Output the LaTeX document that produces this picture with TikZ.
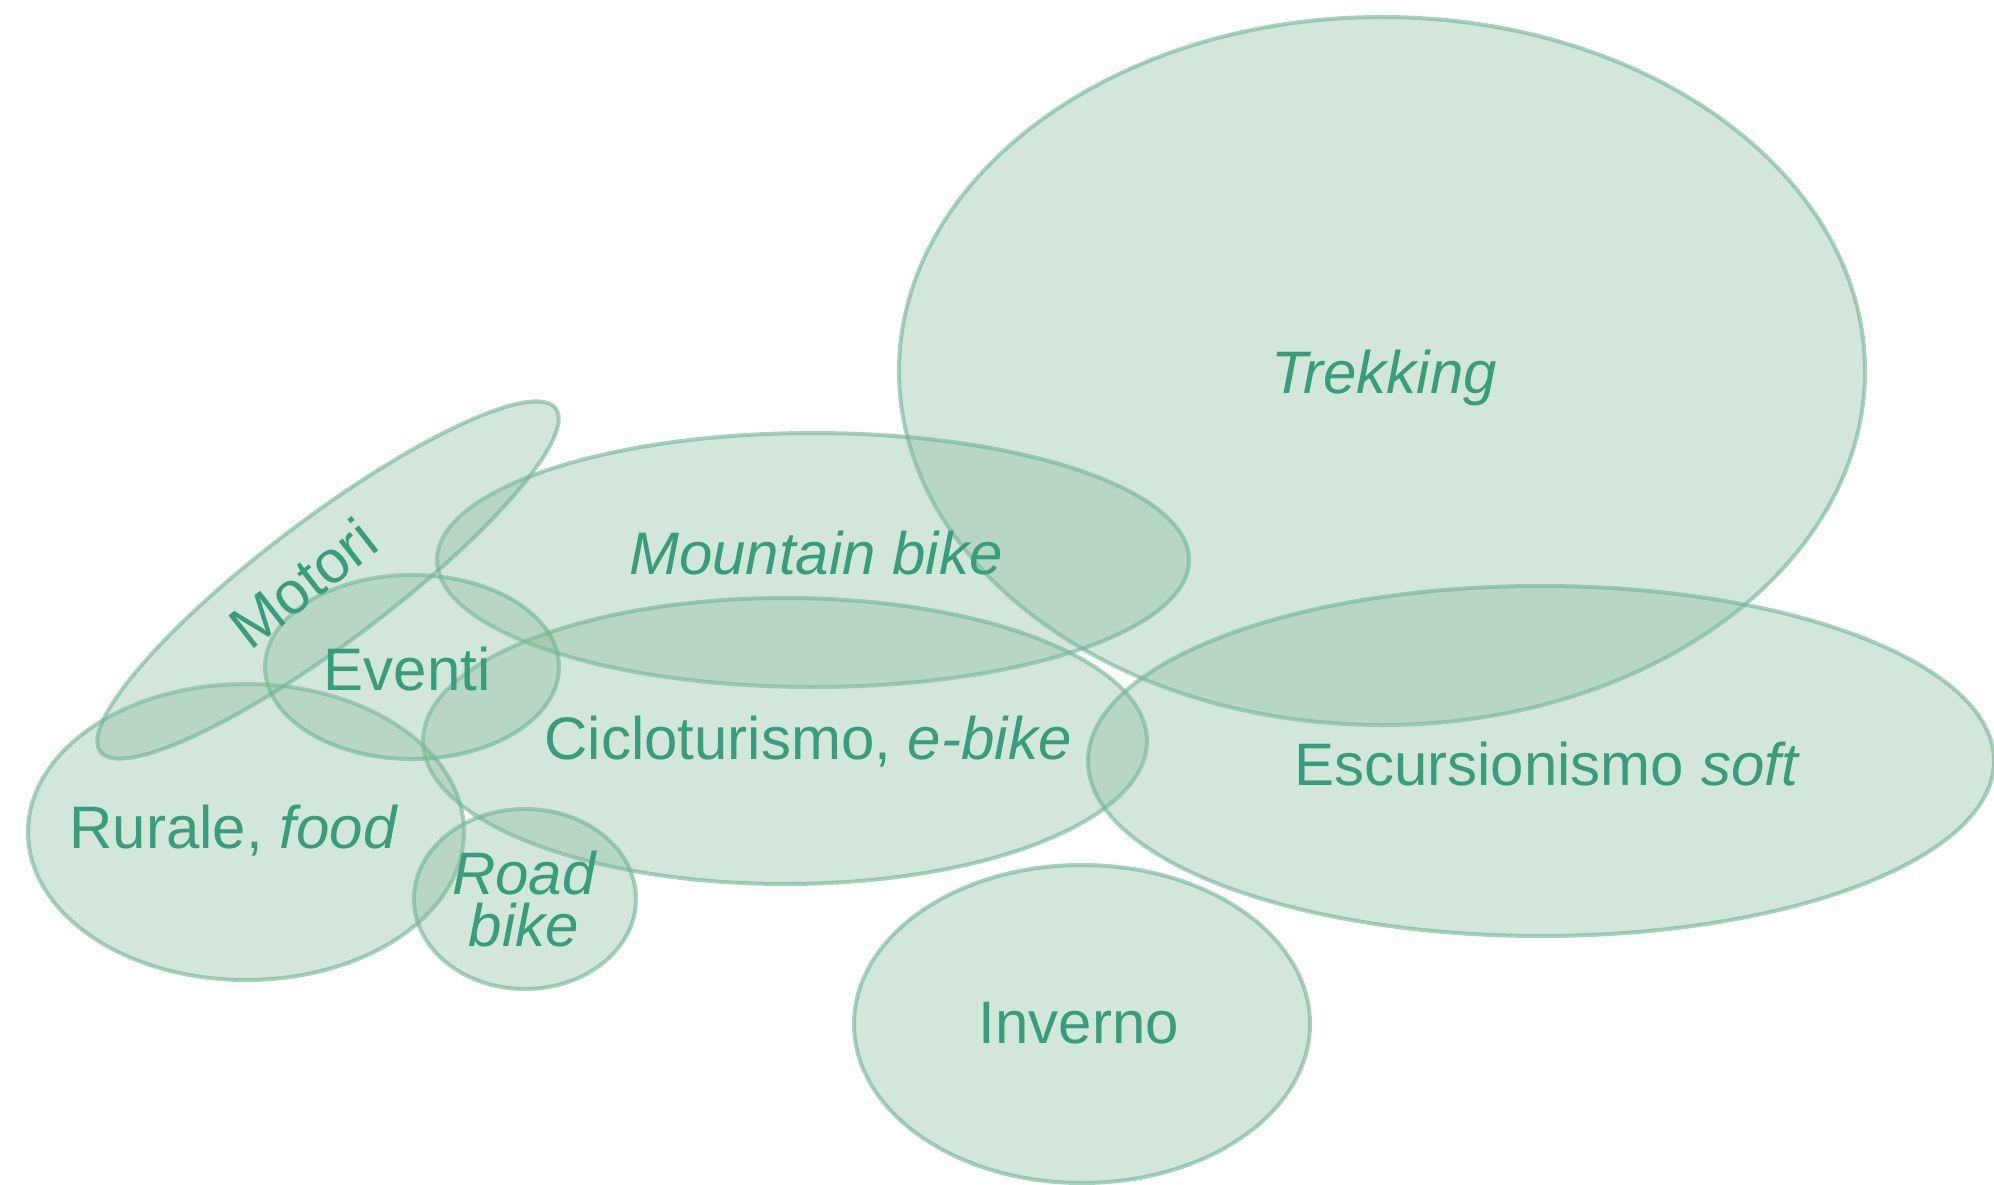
\documentclass[tikz,border=0pt]{standalone}
\usepackage{fontspec}
\setmainfont{Liberation Sans}
\usetikzlibrary{shapes.geometric}
\definecolor{blobfill}{RGB}{134,186,153}
\definecolor{blobline}{RGB}{110,180,148}
\definecolor{labelgreen}{RGB}{56,157,123}
\tikzset{
  blob/.style={shape=ellipse, inner sep=0pt, outer sep=0pt, fill=blobfill, fill opacity=0.36,
    draw=blobline, draw opacity=0.6, line width=4pt},
  lbl/.style={text=labelgreen, font=\fontsize{60}{52}\selectfont, inner sep=0pt, align=center}
}
\begin{document}
\begin{tikzpicture}[x=1pt,y=-1pt]
\useasboundingbox (0,0) rectangle (1994,1185);
% ellipses
\node[blob, minimum width=966pt, minimum height=708pt] (trek) at (1382,371) {};
\node[blob, minimum width=752pt, minimum height=254pt] (mtb) at (813,560) {};
\node[blob, minimum width=724pt, minimum height=286pt] (ciclo) at (785,741) {};
\node[blob, minimum width=906pt, minimum height=350pt] (escu) at (1541,761) {};
\node[blob, minimum width=456pt, minimum height=318pt] (inv) at (1082,1024) {};
\node[blob, minimum width=436pt, minimum height=296pt] (rur) at (246,832) {};
\node[blob, minimum width=222pt, minimum height=180pt] (road) at (525,899) {};
\node[blob, minimum width=294pt, minimum height=184pt] (even) at (412,667) {};
\node[blob, minimum width=570pt, minimum height=124pt, rotate=37] (mot) at (328,580) {};
% labels
\node[lbl] (ltrek) at (1384,378) {\itshape Trekking};
\node[lbl] (lmtb) at (816,553) {\itshape Mountain bike};
\node[lbl] (lciclo) at (808,742) {Cicloturismo, \itshape e-bike};
\node[lbl] (lescu) at (1546,764) {Escursionismo \itshape soft};
\node[lbl] (linv) at (1079,1023) {Inverno};
\node[lbl] (lrur) at (233,831) {Rurale, \itshape food};
\node[lbl] (lroad) at (524,899) {\itshape Road\\\itshape bike};
\node[lbl] (leven) at (407,669) {Eventi};
\node[lbl, rotate=38] (lmot) at (303,583) {Motori};
\end{tikzpicture}
\end{document}
